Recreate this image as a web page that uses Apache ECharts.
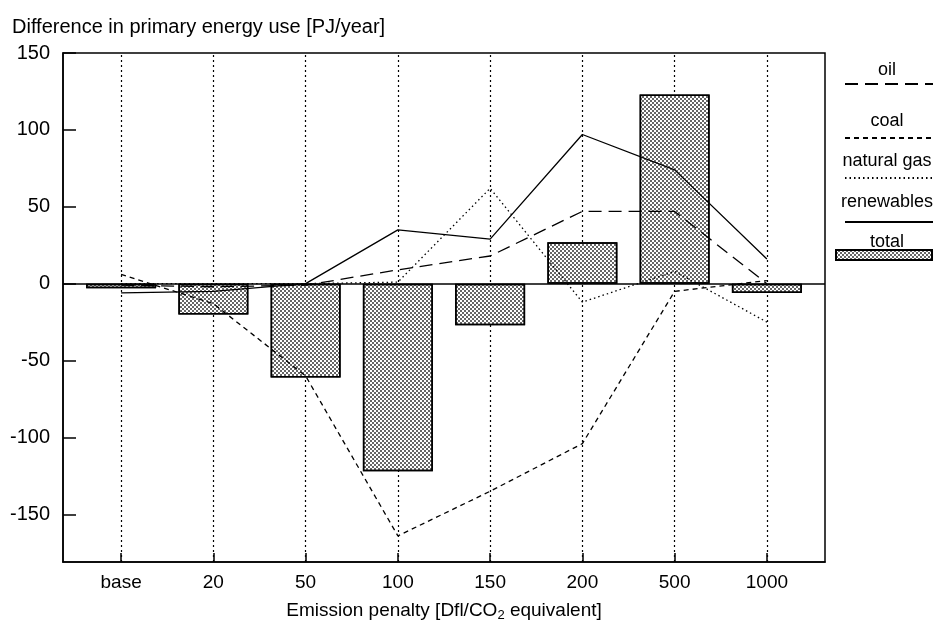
<!DOCTYPE html>
<html><head><meta charset="utf-8">
<script src="https://cdn.jsdelivr.net/npm/echarts@6/dist/echarts.min.js"></script>
<style>html,body{margin:0;padding:0;background:#fff}#c{width:940px;height:627px}</style>
</head><body><div id="c"></div>
<script>
const categories = ['base','20','50','100','150','200','500','1000'];
const oil        = [-1, -2,  -1,    9,   18,   47,  47,   0];
const coal       = [ 6, -13, -60, -164, -135, -104, -5,   2];
const naturalGas = [ 0,  0,   0,    1,   62,  -12,   8, -25];
const renewables = [-6, -5,   0,   35,   29,   97,  74,  16];
const total      = [-3, -20, -61, -122, -27,   27, 123,  -6];
const yTicks = [-150, -100, -50, 0, 50, 100, 150];
const legendNames = ['oil','coal','natural gas','renewables','total'];

const FONT = '"Liberation Sans", Arial, Helvetica, sans-serif';
const idx = categories.map((c, i) => i);
const pts = arr => arr.map((v, i) => [i, v]);

const chart = echarts.init(document.getElementById('c'), null, {renderer: 'canvas'});

const lineSeries = (name, data, type) => ({
  name, type: 'line', data: pts(data), symbol: 'none', z: 3,
  lineStyle: {color: '#000', width: 1.3, type},
  itemStyle: {color: '#000'}
});

const legendY = [84, 138, 178, 222];
const legends = legendNames.slice(0, 4).map((n, i) => ({
  data: [n], left: 839, top: legendY[i] - 12, itemWidth: 88, itemHeight: 14,
  selectedMode: false, formatter: () => '', textStyle: {fontSize: 1},
  itemStyle: {opacity: 0}
}));
legends.push({
  data: [{name: 'total', icon: 'rect'}], left: 830, top: 244, itemWidth: 96, itemHeight: 10,
  selectedMode: false, formatter: () => '', textStyle: {fontSize: 1}
});

const labelY = [70, 121, 161, 202, 242];
const graphics = legendNames.map((n, i) => ({
  type: 'text', x: 887, y: labelY[i],
  style: {text: n, fill: '#000', font: '18px ' + FONT, align: 'center', verticalAlign: 'middle',
          textAlign: 'center', textVerticalAlign: 'middle'}
}));

const option = {
  animation: false,
  backgroundColor: '#fff',
  textStyle: {fontFamily: FONT, color: '#000'},
  title: {text: 'Difference in primary energy use [PJ/year]', left: 7, top: 12,
          textStyle: {fontSize: 20, fontWeight: 'normal', color: '#000', fontFamily: FONT}},
  grid: {left: 63, right: 115, top: 53, bottom: 64, show: true, borderColor: '#000', borderWidth: 1.5,
         backgroundColor: 'transparent'},
  legend: legends,
  graphic: graphics,
  xAxis: {
    type: 'value', min: -0.63, max: 7.63,
    axisLine: {show: true, onZero: false, lineStyle: {color: '#000', width: 1.5}},
    axisTick: {show: true, inside: true, length: 9, customValues: idx, lineStyle: {color: '#000', width: 1.5}},
    axisLabel: {customValues: idx, formatter: v => categories[v], margin: 11, fontSize: 19, color: '#000', fontFamily: FONT},
    splitLine: {show: false},
    name: '{a|Emission penalty [Dfl/CO}{s|2}{a| equivalent]}',
    nameLocation: 'middle', nameGap: 37,
    nameTextStyle: {rich: {
      a: {fontSize: 19, color: '#000', fontFamily: FONT},
      s: {fontSize: 13, color: '#000', fontFamily: FONT, padding: [10, 0, 0, 0]}
    }}
  },
  yAxis: {
    type: 'value', min: -181, max: 150,
    axisLine: {show: true, onZero: false, lineStyle: {color: '#000', width: 1.5}},
    axisTick: {show: true, inside: true, length: 13, customValues: yTicks, lineStyle: {color: '#000', width: 1.5}},
    axisLabel: {customValues: yTicks, margin: 13, fontSize: 20, color: '#000', fontFamily: FONT},
    splitLine: {show: false}
  },
  series: [
    {
      name: 'total', type: 'bar', data: pts(total), barWidth: 70, z: 2,
      itemStyle: {
        color: '#ffffff', borderColor: '#000', borderWidth: 1.5,
        decal: {symbol: 'rect', symbolSize: 1, color: 'rgba(0,0,0,0.6)',
                dashArrayX: [[2, 2], [0, 2, 2, 0]], dashArrayY: [2, 0], rotation: 0}
      },
      markLine: {
        silent: true, symbol: 'none', label: {show: false}, z: 1,
        data: categories.map((c, i) => ({xAxis: i, lineStyle: {color: '#000', type: [2, 3], width: 1.2}}))
          .concat([{yAxis: 0, lineStyle: {color: '#000', type: 'solid', width: 1.6}}])
      }
    },
    lineSeries('oil', oil, [13, 7]),
    lineSeries('coal', coal, [5, 4]),
    lineSeries('natural gas', naturalGas, [1.5, 3]),
    lineSeries('renewables', renewables, 'solid')
  ]
};
chart.setOption(option);
</script>
</body></html>
